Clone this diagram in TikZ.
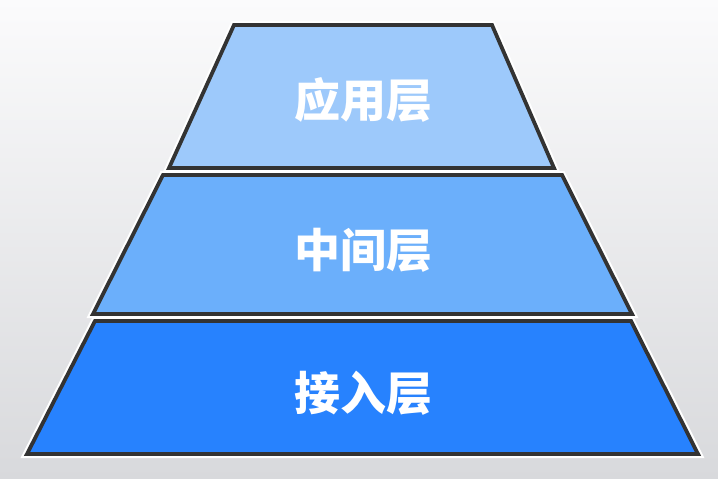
\documentclass[tikz,border=0pt]{standalone}
\usepackage{fontspec}
\newfontfamily\cjk{Noto Sans CJK SC}
\definecolor{topblue}{HTML}{9DC9FB}
\definecolor{midblue}{HTML}{6BAFFB}
\definecolor{lowblue}{HTML}{2782FE}
\definecolor{edge}{HTML}{333333}
\definecolor{bgtop}{HTML}{FBFBFC}
\definecolor{bgbot}{HTML}{D8D9DC}
\tikzset{
  layer/.style={draw=edge, line width=3.8pt, line join=miter},
  halo/.style={draw=white, line width=8pt, line join=miter},
  lbl/.style={text=white, font=\cjk\bfseries\fontsize{46}{50}\selectfont, inner sep=0pt}
}
\begin{document}
\begin{tikzpicture}[x=1pt,y=-1pt]
\useasboundingbox (0,0) rectangle (718,479);
\shade[top color=bgtop, bottom color=bgbot, middle color=bgtop!50!bgbot] (0,0) rectangle (718,479);
% bottom layer
\path[halo] (95,321) -- (631,321) -- (698,454) -- (27,454) -- cycle;
\path[layer, fill=lowblue] (95,321) -- (631,321) -- (698,454) -- (27,454) -- cycle;
% middle layer
\path[halo] (163,175) -- (562,175) -- (632,314) -- (93,314) -- cycle;
\path[layer, fill=midblue] (163,175) -- (562,175) -- (632,314) -- (93,314) -- cycle;
% top layer
\path[halo] (234,25) -- (492,25) -- (554,168) -- (169,168) -- cycle;
\path[layer, fill=topblue] (234,25) -- (492,25) -- (554,168) -- (169,168) -- cycle;
\node[lbl] (app) at (363,100) {应用层};
\node[lbl] (mid) at (363,250) {中间层};
\node[lbl] (acc) at (363,393) {接入层};
\end{tikzpicture}
\end{document}
